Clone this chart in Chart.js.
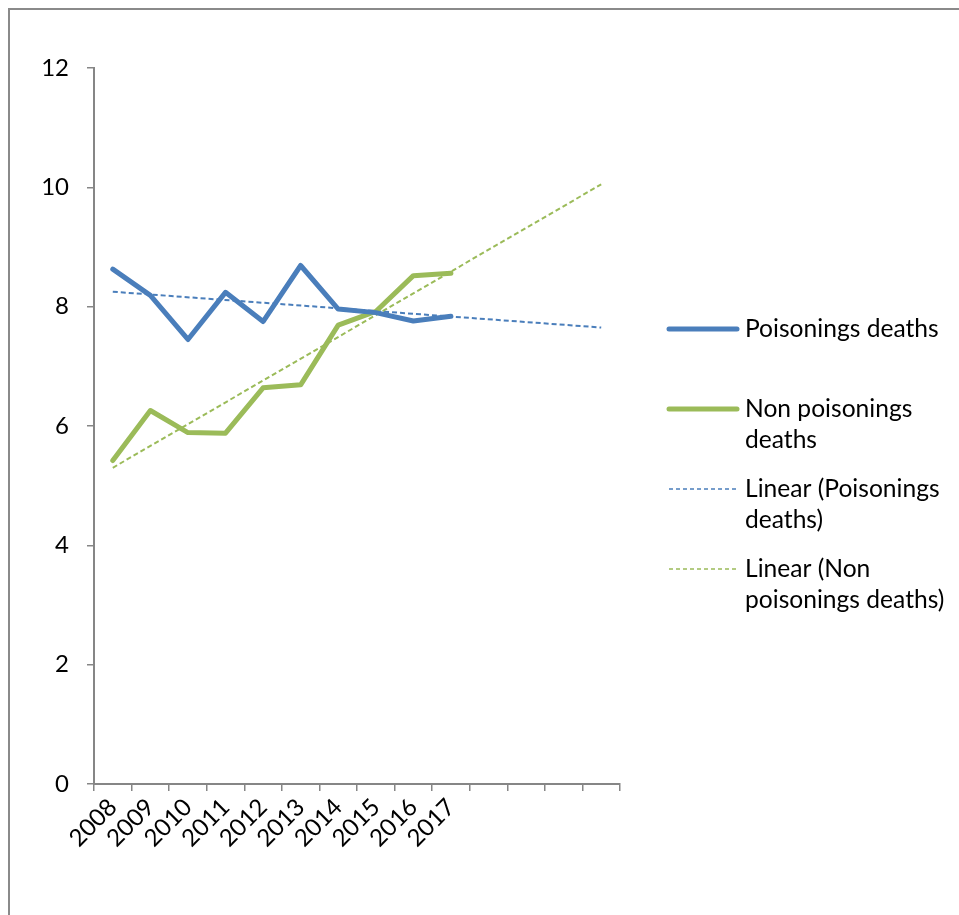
<!DOCTYPE html>
<html>
<head>
<meta charset="utf-8">
<script src="https://cdn.jsdelivr.net/npm/chart.js@4.4.1/dist/chart.umd.min.js"></script>
<style>
  html, body { margin: 0; padding: 0; background: #fff; overflow: hidden; }
  #wrap { position: relative; width: 959px; height: 915px; }
  #frame { position: absolute; left: 8px; top: 8px; width: 960px; height: 920px;
           border-left: 2px solid #8a8a8a; border-top: 2px solid #8a8a8a; }
  canvas { position: absolute; left: 0; top: 0; }
</style>
</head>
<body>
<div id="wrap">
  <div id="frame"></div>
  <canvas id="chart" width="959" height="915"></canvas>
</div>
<script>
// categories (4 empty slots at the end hold the trendline forecast)
const years = ['2008', '2009', '2010', '2011', '2012', '2013', '2014', '2015', '2016', '2017', '', '', '', ''];
const poisonings = [8.63, 8.19, 7.45, 8.24, 7.75, 8.69, 7.96, 7.90, 7.76, 7.84];
const nonPoisonings = [5.42, 6.26, 5.89, 5.88, 6.64, 6.69, 7.69, 7.92, 8.52, 8.56];
// trendline ends: first and last category
const poisoningsTrend = [8.25, 7.65];
const nonPoisoningsTrend = [5.30, 10.05];
const yTicks = [0, 2, 4, 6, 8, 10, 12];
const legendText = [
    ['Poisonings deaths'],
    ['Non poisonings', 'deaths'],
    ['Linear (Poisonings', 'deaths)'],
    ['Linear (Non', 'poisonings deaths)']
];

const BLUE = '#4a7ebb';
const GREEN = '#9bbb59';
const AXIS = '#868686';
const FONT = 'Lato, "Open Sans", sans-serif';

// put the two trend values on the first and last category, gaps between
function trendSeries(ends) {
    const arr = years.map(() => null);
    arr[0] = ends[0];
    arr[years.length - 1] = ends[1];
    return arr;
}

// legend drawn by hand so that long labels can wrap like the original
const sideLegend = {
    id: 'sideLegend',
    afterDraw(chart) {
        const ctx = chart.ctx;
        const rows = [329, 409, 489, 569];
        ctx.save();
        chart.data.datasets.forEach((ds, i) => {
            const y = rows[i];
            ctx.beginPath();
            ctx.strokeStyle = ds.borderColor;
            ctx.lineWidth = ds.borderDash ? 1.5 : ds.borderWidth;
            ctx.lineCap = ds.borderDash ? 'butt' : 'round';
            ctx.setLineDash(ds.borderDash ? [4, 3] : []);
            ctx.moveTo(669, y);
            ctx.lineTo(737, y);
            ctx.stroke();
            ctx.setLineDash([]);
            ctx.fillStyle = '#000';
            ctx.font = '24.6px ' + FONT;
            ctx.textBaseline = 'middle';
            legendText[i].forEach((t, k) => ctx.fillText(t, 745, y + k * 31));
        });
        ctx.restore();
    }
};

new Chart(document.getElementById('chart'), {
    type: 'line',
    data: {
        labels: years,
        datasets: [
            { data: poisonings, borderColor: BLUE, borderWidth: 5, pointRadius: 0, tension: 0, borderJoinStyle: 'round', borderCapStyle: 'round' },
            { data: nonPoisonings, borderColor: GREEN, borderWidth: 5, pointRadius: 0, tension: 0, borderJoinStyle: 'round', borderCapStyle: 'round' },
            { data: trendSeries(poisoningsTrend), borderColor: BLUE, borderWidth: 2, borderDash: [5, 3], pointRadius: 0, spanGaps: true },
            { data: trendSeries(nonPoisoningsTrend), borderColor: GREEN, borderWidth: 2, borderDash: [5, 3], pointRadius: 0, spanGaps: true }
        ]
    },
    options: {
        responsive: false,
        animation: false,
        layout: { padding: { left: 0, top: 68, right: 339, bottom: 0 } },
        plugins: { legend: { display: false }, tooltip: { enabled: false } },
        scales: {
            x: {
                type: 'category',
                offset: true,
                grid: { offset: true, drawOnChartArea: false, drawTicks: true, tickLength: 7, color: AXIS, lineWidth: 1.5 },
                border: { color: AXIS, width: 2 },
                ticks: { color: '#000', font: { family: FONT, size: 24 }, minRotation: 45, maxRotation: 45, autoSkip: false, padding: 2 },
                afterFit(scale) { scale.height = 131; }
            },
            y: {
                min: 0,
                max: 12,
                afterBuildTicks(scale) { scale.ticks = yTicks.map(v => ({ value: v })); },
                grid: { drawOnChartArea: false, drawTicks: true, tickLength: 7, color: AXIS, lineWidth: 1.5 },
                border: { color: AXIS, width: 2 },
                ticks: { color: '#000', font: { family: FONT, size: 24 }, padding: 18 },
                afterFit(scale) { scale.width = 94; }
            }
        }
    },
    plugins: [sideLegend]
});
</script>
</body>
</html>
